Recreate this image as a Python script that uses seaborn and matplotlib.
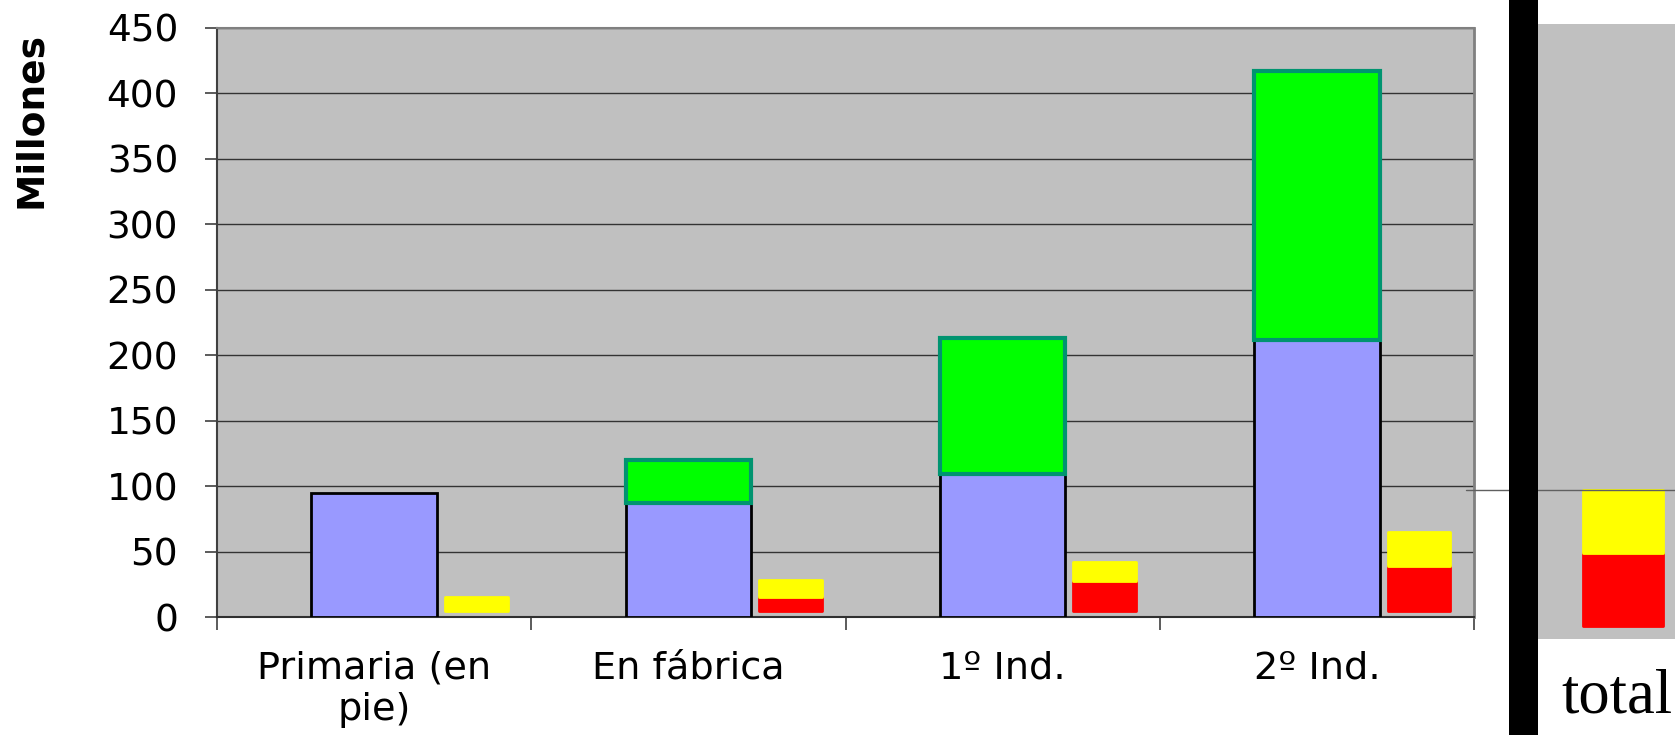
import numpy as np
import pandas as pd
import matplotlib
matplotlib.use("Agg")
import matplotlib.pyplot as plt
from matplotlib.patches import Rectangle
import seaborn as sns

# Valor por etapa de la cadena (millones)
etapas = ["Primaria (en\npie)", "En fábrica", "1º Ind.", "2º Ind."]
valor_base = [95, 87, 109, 212]
valor_agregado = [0, 33, 104, 205]
costo_rojo = [0, 10.9, 22.9, 34.3]
costo_amarillo = [10.4, 12.7, 14.7, 26.1]

# Panel lateral "total"
total_etiqueta = ["total"]
total_rojo = [56]
total_amarillo = [48]

yticks = list(range(0, 451, 50))

sns.set_style("white")
plt.rcParams["font.family"] = ["DejaVu Sans"]
plt.rcParams["text.color"] = "black"
plt.rcParams["xtick.color"] = "black"
plt.rcParams["ytick.color"] = "black"
plt.rcParams["xtick.labelcolor"] = "black"
plt.rcParams["ytick.labelcolor"] = "black"

W, H = 1675, 735
fig = plt.figure(figsize=(W / 100, H / 100), dpi=100)

def fx(px):
    return px / W

def fy(py):
    return 1 - py / H

# Main chart area
left, right, top, bottom = 217, 1474, 27.7, 617.3
ax = fig.add_axes([fx(left), fy(bottom), fx(right - left), (bottom - top) / H])
ax.set_facecolor("#C0C0C0")

df = pd.DataFrame({
    "etapa": etapas,
    "base": valor_base,
    "agregado": valor_agregado,
})
df["total"] = df["base"] + df["agregado"]

# Full-height bar (blue fill, black outline)
sns.barplot(data=df, x="etapa", y="total", order=etapas, color="#9999FF",
            saturation=1, width=0.4, errorbar=None, edgecolor="black",
            linewidth=2.0, ax=ax, zorder=3)
n_first = len(ax.patches)
# Added value drawn over the upper part
sns.barplot(data=df, x="etapa", y="agregado", order=etapas, color="#00FF00",
            saturation=1, width=0.4, errorbar=None, edgecolor="#009470",
            linewidth=3.0, bottom=df["base"].to_numpy(), ax=ax, zorder=4)
for p, v in zip(ax.patches[n_first:], valor_agregado):
    if v == 0:
        p.set_visible(False)

ax.set_xlim(-0.5, len(etapas) - 0.5)
ax.set_ylim(0, 450)
ax.set_yticks(yticks)
ax.set_yticklabels([str(t) for t in yticks])
ax.set_xlabel("")
ax.set_ylabel("")
ax.yaxis.grid(True, color="#333333", linewidth=1.0, zorder=0)
ax.xaxis.grid(False)
ax.set_axisbelow(True)

ax.set_xticks(np.arange(len(etapas)))
ax.set_xticklabels(etapas)
ax.set_xticks(np.arange(len(etapas) + 1) - 0.5, minor=True)
ax.tick_params(axis="x", which="major", length=0, pad=24, labelsize=27.5)
ax.tick_params(axis="x", which="minor", length=9, width=1.2, color="#404040",
               direction="out", bottom=True)
ax.tick_params(axis="y", length=9, width=1.2, color="#404040", direction="out",
               pad=19, labelsize=27, left=True)
for lbl in ax.get_xticklabels():
    lbl.set_linespacing(1.2)

ax.spines["left"].set_color("#404040")
ax.spines["left"].set_linewidth(1.5)
ax.spines["bottom"].set_color("#303030")
ax.spines["bottom"].set_linewidth(1.5)
ax.spines["top"].set_color("#808080")
ax.spines["top"].set_linewidth(1.5)
ax.spines["right"].set_color("#808080")
ax.spines["right"].set_linewidth(2.0)
for s in ax.spines.values():
    s.set_visible(True)

# Cost series on a secondary scale, slightly raised baseline
ax2 = ax.twinx()
off = (bottom - 611.0) / ((bottom - top) / 450)
ax2.set_ylim(-off, 450 - off)
x = np.arange(len(etapas)) + 0.325
lw_r = [2.0 if v > 0 else 0 for v in costo_rojo]
bars_r = ax2.bar(x, costo_rojo, width=0.2, color="#FF0000", edgecolor="#FF0000",
                 linewidth=lw_r, zorder=3)
bars_y = ax2.bar(x, costo_amarillo, bottom=costo_rojo, width=0.2, color="#FFFF00",
                 edgecolor="#FFFF00", linewidth=2.0, zorder=3)
for p in list(bars_r) + list(bars_y):
    p.set_joinstyle("round")
ax2.set_yticks([])
ax2.tick_params(right=False, left=False)
for s in ax2.spines.values():
    s.set_visible(False)

fig.text(fx(31), fy(120), "Millones", rotation=90, ha="center", va="center",
         fontsize=27, fontweight="bold")

# Side panel with the total
ax3 = fig.add_axes([fx(1538), fy(639), fx(170), (639 - 23.5) / H])
ax3.set_facecolor("#C0C0C0")
ax3.set_xlim(-0.5, 0.5)
ax3.set_ylim(-9.9, 459.2)
tr = ax3.bar([0], total_rojo, width=0.47, color="#FF0000", edgecolor="#FF0000",
             linewidth=2.0, zorder=3)
ty = ax3.bar([0], total_amarillo, bottom=total_rojo, width=0.47, color="#FFFF00",
             edgecolor="#FFFF00", linewidth=2.0, zorder=3)
for p in list(tr) + list(ty):
    p.set_joinstyle("round")
for s in ax3.spines.values():
    s.set_visible(False)
ax3.set_yticks([])
ax3.set_xticks([-0.035])
ax3.set_xticklabels(total_etiqueta, family=["Liberation Serif"], fontsize=45)
ax3.tick_params(axis="x", length=0, pad=21)
tot = total_rojo[0] + total_amarillo[0]
ax3.plot([(1466 - 1538) / 170, 1.0], [tot, tot], transform=ax3.get_yaxis_transform(),
         color="#606060", linewidth=1.0, clip_on=False, zorder=5)

# Black separator bar
fig.add_artist(Rectangle((fx(1509), 0), fx(29), 1, transform=fig.transFigure,
                         facecolor="black", edgecolor="none", zorder=10))

fig.savefig("out.png", dpi=100)
